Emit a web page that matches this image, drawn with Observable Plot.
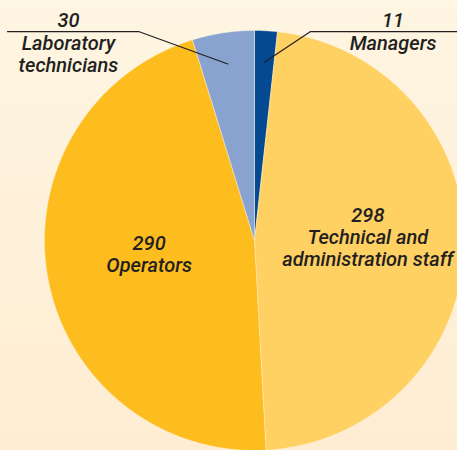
<!DOCTYPE html>
<html>
<head>
<meta charset="utf-8">
<script src="https://cdn.jsdelivr.net/npm/d3@7"></script>
<script src="https://cdn.jsdelivr.net/npm/@observablehq/plot@0.6"></script>
<style>
  html, body { margin: 0; padding: 0; overflow: hidden; }
  body { width: 457px; height: 450px; background: linear-gradient(#FEF5E2, #FEEDD2); }
</style>
</head>
<body>
<div id="chart"></div>
<script>
// Data
const categories = ["Managers", "Technical and administration staff", "Operators", "Laboratory technicians"];
const values = [11, 298, 290, 30];
const valueLabels = ["11", "298", "290", "30"];
const nameLabels = ["Managers", "Technical and\nadministration staff", "Operators", "Laboratory\ntechnicians"];
const colors = ["#034A93", "#FFD062", "#FDBD1E", "#88A3CF"];
const insideLabel = [false, true, true, false];

// Layout (style) constants
const outerLabelU = {"Managers": 0.66, "Laboratory technicians": -0.886};
const lineEndU = {"Managers": 1.0, "Laboratory technicians": -1.176};
const elbowU = {"Managers": 0.267, "Laboratory technicians": -0.552};
const lineV = 0.995;

const arcs = d3.pie().sort(null).value(d => d)(values);

// slice polygons
const slicePts = [];
arcs.forEach((a, i) => {
  const cat = categories[i];
  slicePts.push({cat, u: 0, v: 0});
  const n = Math.max(4, Math.ceil((a.endAngle - a.startAngle) / 0.008));
  for (let k = 0; k <= n; k++) {
    const t = a.startAngle + (a.endAngle - a.startAngle) * k / n;
    slicePts.push({cat, u: Math.sin(t), v: Math.cos(t)});
  }
  slicePts.push({cat, u: 0, v: 0});
});

const inside = [];
const outside = [];
const leaders = [];
arcs.forEach((a, i) => {
  const cat = categories[i];
  const mid = (a.startAngle + a.endAngle) / 2;
  if (insideLabel[i]) {
    const r = 0.525;
    inside.push({text: valueLabels[i] + "\n" + nameLabels[i], u: r * Math.sin(mid) + 0.015, v: r * Math.cos(mid) + 0.03});
  } else {
    const r = 0.85;
    leaders.push({cat, u: r * Math.sin(mid), v: r * Math.cos(mid)});
    leaders.push({cat, u: elbowU[cat], v: lineV});
    leaders.push({cat, u: lineEndU[cat], v: lineV});
    outside.push({text: valueLabels[i], u: outerLabelU[cat], v: 1.052});
    const lines = nameLabels[i].split("\n").length;
    outside.push({text: nameLabels[i], u: outerLabelU[cat], v: lines > 1 ? 0.888 : 0.943});
  }
});

const font = {fontFamily: "Roboto, 'Liberation Sans', sans-serif", fontSize: 20, fontStyle: "italic", fontWeight: 500, fill: "#231F20", lineHeight: 1.1, lineAnchor: "middle", textAnchor: "middle"};

const chart = Plot.plot({
  width: 457,
  height: 450,
  margin: 0,
  x: {domain: [-1, 1], range: [44, 464], axis: null},
  y: {domain: [-1, 1], range: [450, 30], axis: null},
  color: {type: "ordinal", domain: categories, range: colors},
  style: {background: "transparent", overflow: "hidden"},
  marks: [
    Plot.line(slicePts, {x: "u", y: "v", z: "cat", fill: "cat", stroke: "#FFF3DE", strokeOpacity: 0.55, strokeWidth: 0.8, curve: "linear"}),
    Plot.line(leaders, {x: "u", y: "v", z: "cat", stroke: "#231F20", strokeWidth: 1.2}),
    Plot.text(inside, {x: "u", y: "v", text: "text", ...font}),
    Plot.text(outside, {x: "u", y: "v", text: "text", ...font})
  ]
});
document.getElementById("chart").appendChild(chart);
</script>
</body>
</html>
